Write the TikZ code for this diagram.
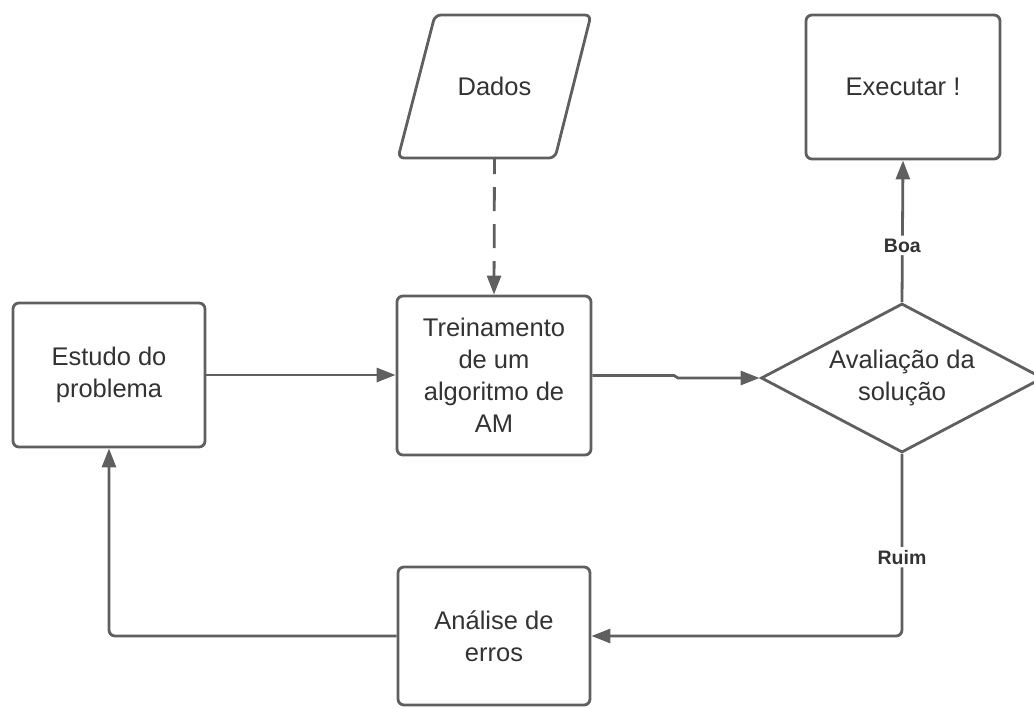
\documentclass[tikz,border=0pt]{standalone}
\usepackage{fontspec}
\setmainfont{Liberation Sans}
\usetikzlibrary{arrows.meta,shapes.geometric}

\definecolor{linegray}{HTML}{5F5F5F}
\definecolor{textgray}{HTML}{333333}

\tikzset{
  boxstyle/.style={draw=linegray, line width=2.8pt, rounded corners=6pt,
    fill=white, text=textgray, align=center, inner sep=0pt,
    font=\fontsize{25.5pt}{32pt}\selectfont},
  stepbox/.style={boxstyle, rectangle, minimum width=#1},
  outline/.style={draw=linegray, line width=2.8pt, rounded corners=6pt,
    line join=round},
  decision/.style={boxstyle, rounded corners=0pt, diamond, aspect=1.88,
    minimum width=282pt, minimum height=149pt},
  flow/.style={draw=linegray, line width=2.8pt, rounded corners=6pt,
    -{Triangle[length=19pt,width=14pt]}},
  dashflow/.style={flow, dash pattern=on 24pt off 13pt, dash phase=8pt},
  edgelabel/.style={fill=white, text=textgray, inner sep=3pt,
    font=\fontsize{19.5pt}{22pt}\selectfont\bfseries},
}

\begin{document}
\begin{tikzpicture}[x=1pt,y=-1pt]
  \useasboundingbox (0,0) rectangle (1034,709);

  % process boxes
  \node[stepbox=192pt, minimum height=144pt] (estudo) at (109,375)
    {Estudo do\\problema};
  \node[stepbox=194pt, minimum height=159pt] (treino) at (494,375.5)
    {Treinamento\\de um\\algoritmo de\\AM};
  \node[stepbox=194pt, minimum height=144pt] (exec) at (903,87)
    {Executar !};
  \node[stepbox=192pt, minimum height=138pt] (analise) at (494,636)
    {Análise de\\erros};

  % data input: slanted outline with its text node
  \draw[outline] (398,158) -- (435,15) -- (591,15) -- (555,158) -- cycle;
  \node[rectangle, inner sep=0pt, minimum width=156pt, minimum height=143pt,
    text=textgray, font=\fontsize{25.5pt}{32pt}\selectfont]
    (dados) at (494.5,86.5) {Dados};

  % decision
  \node[decision] (aval) at (902,378) {Avaliação da\\solução};

  % small jog in the connector towards the decision
  \coordinate (jogA) at (674,375.5);
  \coordinate (jogB) at (678,378);

  % connectors
  \draw[dashflow] (dados.south) -- (treino.north);
  \draw[flow] (estudo.east) -- (estudo.east -| treino.west);
  \draw[flow, rounded corners=0pt] (treino.east) -- (jogA) -- (jogB) -- (aval.west);
  \draw[flow] (aval.north) -- node[pos=0.4, edgelabel] {Boa} (exec.south);
  \draw[flow] (aval.south) |- node[pos=0.284, edgelabel] {Ruim} (analise.east);
  \draw[flow] (analise.west) -| (estudo.south);
\end{tikzpicture}
\end{document}
